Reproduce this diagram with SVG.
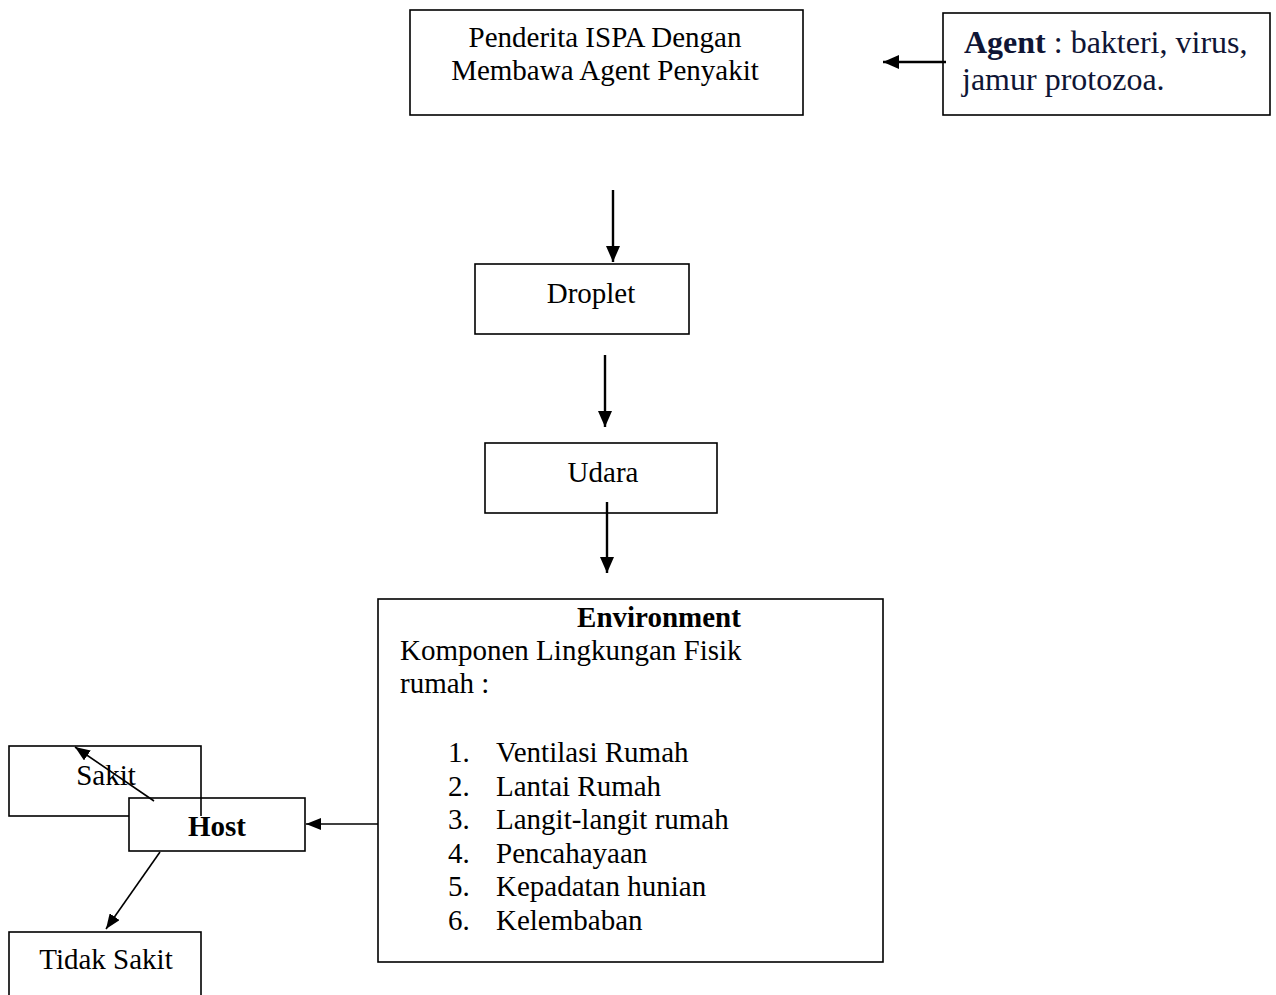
<svg xmlns="http://www.w3.org/2000/svg" width="1276" height="995" viewBox="0 0 1276 995">
<style>
.box{fill:#fff;stroke:#000;stroke-width:1.6}
.t{font-family:"Liberation Serif","Times New Roman",serif;font-size:29px;fill:#000}
.b{font-weight:bold}
.c{text-anchor:middle}
.nv{fill:#0f1535;font-size:32px}
.ln{stroke:#000;stroke-width:2.4;fill:none;marker-end:url(#ahb)}
.lt{stroke:#000;stroke-width:1.6;fill:none;marker-end:url(#ah)}
</style>
<defs>
<marker id="ah" markerUnits="userSpaceOnUse" markerWidth="16" markerHeight="12" viewBox="0 0 16 12" refX="15" refY="6" orient="auto">
<path d="M0,0 L15,6 L0,12 z" fill="#000"/>
</marker>
<marker id="ahb" markerUnits="userSpaceOnUse" markerWidth="17" markerHeight="14" viewBox="0 0 17 14" refX="16" refY="7" orient="auto">
<path d="M0,0 L16,7 L0,14 z" fill="#000"/>
</marker>
</defs>
<rect width="1276" height="995" fill="#fff"/>
<g id="penderita">
<rect class="box" x="410" y="10" width="393" height="105"/>
<text class="t c" x="605" y="47">Penderita ISPA Dengan</text>
<text class="t c" x="605" y="80">Membawa Agent Penyakit</text>
</g>
<g id="agent">
<rect class="box" x="943" y="13" width="327" height="102"/>
<text class="t nv" x="964" y="53"><tspan class="b">Agent</tspan> : bakteri, virus,</text>
<text class="t nv" x="962" y="90">jamur protozoa.</text>
</g>
<g id="droplet">
<rect class="box" x="475" y="264" width="214" height="70"/>
<text class="t c" x="591" y="303">Droplet</text>
</g>
<g id="udara">
<rect class="box" x="485" y="443" width="232" height="70"/>
<text class="t c" x="603" y="482">Udara</text>
</g>
<g id="environment">
<rect class="box" x="378" y="599" width="505" height="363"/>
<text class="t b c" x="659" y="627">Environment</text>
<text class="t" x="400" y="660">Komponen Lingkungan Fisik</text>
<text class="t" x="400" y="693">rumah :</text>
<text class="t" x="448" y="762" font-size="24">1.</text><text class="t" x="496" y="762">Ventilasi Rumah</text>
<text class="t" x="448" y="796" font-size="24">2.</text><text class="t" x="496" y="796">Lantai Rumah</text>
<text class="t" x="448" y="829" font-size="24">3.</text><text class="t" x="496" y="829">Langit-langit rumah</text>
<text class="t" x="448" y="863" font-size="24">4.</text><text class="t" x="496" y="863">Pencahayaan</text>
<text class="t" x="448" y="896" font-size="24">5.</text><text class="t" x="496" y="896">Kepadatan hunian</text>
<text class="t" x="448" y="930" font-size="24">6.</text><text class="t" x="496" y="930">Kelembaban</text>
</g>
<g id="sakit">
<rect class="box" x="9" y="746" width="192" height="70" style="fill:none"/>
<text class="t c" x="106" y="785">Sakit</text>
</g>
<g id="host">
<rect class="box" x="129" y="798" width="176" height="53"/>
<line x1="201" y1="798" x2="201" y2="816" stroke="#000" stroke-width="1.6"/>
<text class="t b c" x="217" y="836">Host</text>
</g>
<g id="tidak-sakit">
<rect class="box" x="9" y="932" width="192" height="80"/>
<text class="t c" x="106" y="969">Tidak Sakit</text>
</g>
<g id="connectors">
<line class="ln" x1="946" y1="62" x2="883" y2="62"/>
<line class="ln" x1="613" y1="190" x2="613" y2="262"/>
<line class="ln" x1="605" y1="355" x2="605" y2="427"/>
<line class="ln" x1="607" y1="502" x2="607" y2="573"/>
<line class="lt" x1="378" y1="824" x2="306" y2="824"/>
<line class="lt" x1="154" y1="801" x2="75" y2="747"/>
<line class="lt" x1="160" y1="852" x2="106" y2="929"/>
</g>
</svg>
